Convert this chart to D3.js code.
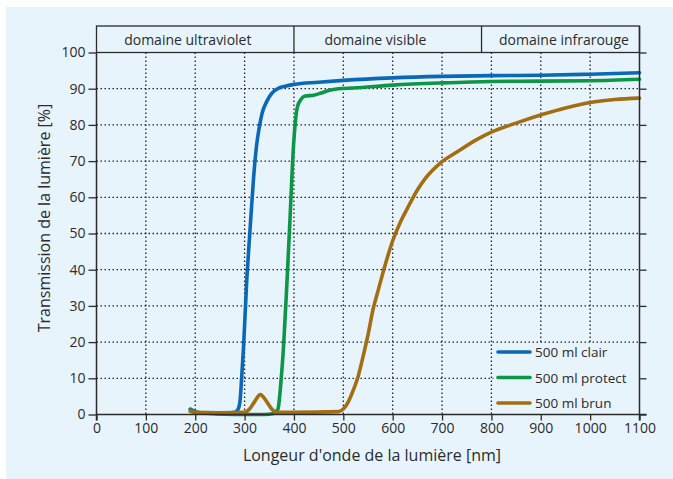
<!DOCTYPE html>
<html><head><meta charset="utf-8">
<script src="https://cdn.jsdelivr.net/npm/d3@7"></script>
<style>body{margin:0;background:#fff}svg{display:block}text{font-family:"Open Sans","Noto Sans",sans-serif;fill:#2b2b2b}</style>
</head><body><svg id="c" width="673" height="479"></svg>
<script>
// ---- data ----
const xTicks = [0,100,200,300,400,500,600,700,800,900,1000,1100];
const yTicks = [0,10,20,30,40,50,60,70,80,90,100];
const domains = ["domaine ultraviolet","domaine visible","domaine infrarouge"];
const domainBounds = [0,400,780,1100];
const seriesNames = ["500 ml clair","500 ml protect","500 ml brun"];
const seriesColors = ["#0b68b6","#0c9646","#a36d12"];
const clairX = [190,200,220,260,280,287,291,294,298,304,311,318,324,330,335,345,355,370,382,400,450,500,600,700,800,900,1000,1100];
const clairY = [1.5,0.8,0.4,0.3,0.6,1.5,4,10,19,36,51,65,74,79.5,83,86.5,88.7,90.2,90.7,91.2,91.8,92.3,93.0,93.4,93.6,93.7,94.0,94.4];
const protectX = [190,200,230,260,300,340,358,364,368,373,379,386,392,399,403,407,414,423,440,455,470,490,520,600,700,800,900,1000,1100];
const protectY = [1.2,0.6,0.3,0.1,0,0,0.3,0.8,1.7,8,19,37,54,74,81,85,87,88,88.2,88.8,89.5,90,90.2,91,91.6,92,92.1,92.2,92.6];
const brunX = [190,200,250,300,310,320,332,345,355,365,400,490,500,510,521,530,540,550,561,570,582,600,615,630,650,665,697,730,771,800,850,906,950,1000,1050,1100];
const brunY = [0.8,0.6,0.5,0.6,1.5,3.5,5.5,3.5,1.5,0.6,0.6,0.8,1.5,3.5,7,10.5,16,22,29.5,34,40,48,53,57,62,65,69.5,72.5,76,78,80.5,83,84.7,86.2,87,87.4];
const series = [[clairX,clairY],[protectX,protectY],[brunX,brunY]];

// ---- layout ----
const svg = d3.select("#c");
const L=96.5, R=639.5, T=52.5, B=414.5, HT=26;
const x = d3.scaleLinear().domain([0,1100]).range([L,R]);
const y = d3.scaleLinear().domain([0,100]).range([B,T]);
const ink="#2b2b2b";
const FF='"Open Sans","Noto Sans",sans-serif';

svg.append("rect").attr("x",6).attr("y",7).attr("width",667).attr("height",472).attr("fill","#e8f4fc");

// grid
const g = svg.append("g");
g.selectAll(".vg").data(xTicks.filter(d=>d>0&&d<1100)).join("line")
 .attr("x1",d=>x(d)).attr("x2",d=>x(d)).attr("y1",T).attr("y2",B)
 .attr("stroke","#222").attr("stroke-width",1.3).attr("stroke-dasharray","1.5,2.5");
g.selectAll(".hg").data(yTicks.filter(d=>d>0&&d<100)).join("line")
 .attr("x1",L).attr("x2",R).attr("y1",d=>y(d)).attr("y2",d=>y(d))
 .attr("stroke","#222").attr("stroke-width",1.3).attr("stroke-dasharray","1.5,2.5");

// header band
svg.append("rect").attr("x",L).attr("y",HT).attr("width",R-L).attr("height",T-HT)
 .attr("fill","none").attr("stroke",ink).attr("stroke-width",1.3);
svg.selectAll(".dv").data(domainBounds.slice(1,-1)).join("line")
 .attr("x1",d=>x(d)).attr("x2",d=>x(d)).attr("y1",HT).attr("y2",T).attr("stroke",ink).attr("stroke-width",1.3);
const hdrX=[185,565,947];
svg.selectAll(".hd").data(domains).join("text")
 .attr("x",(d,i)=>x(hdrX[i])).attr("y",44.5).attr("text-anchor","middle").attr("font-size",14).text(d=>d);

// legend background (covers grid)
svg.append("rect").attr("x",x(800)+2).attr("y",y(20)+1).attr("width",R-x(800)-2).attr("height",B-y(20)-1).attr("fill","#e8f4fc");

// curves
const line = d3.line().x(d=>x(d[0])).y(d=>y(d[1])).curve(d3.curveMonotoneX);
[0,1,2].forEach(i=>{
  const pts = series[i][0].map((v,k)=>[v,series[i][1][k]]);
  svg.append("path").attr("d",line(pts)).attr("fill","none").attr("stroke",seriesColors[i])
   .attr("stroke-width",3.6).attr("stroke-linejoin","round").attr("stroke-linecap","round");
});

// axes
const xa = svg.append("g").attr("transform",`translate(0,${B})`)
 .call(d3.axisBottom(x).tickValues(xTicks).tickSize(6).tickSizeOuter(0).tickPadding(3).tickFormat(d3.format("d")));
xa.select(".domain").attr("d",`M${L},0H${R+7}`);
const ya = svg.append("g").attr("transform",`translate(${L},0)`)
 .call(d3.axisLeft(y).tickValues(yTicks).tickSize(8).tickSizeOuter(0).tickPadding(3).tickFormat(d3.format("d")));
ya.select(".domain").attr("d",`M0,${B+6}V${T}`);
const yr = svg.append("g").attr("transform",`translate(${R},0)`)
 .call(d3.axisRight(y).tickValues(yTicks).tickSize(7).tickSizeOuter(0).tickFormat(""));
yr.select(".domain").attr("d",`M0,${B+6}V${HT}`);
[xa,ya,yr].forEach(a=>{
  a.selectAll(".domain").attr("stroke",ink).attr("stroke-width",1.5);
  a.selectAll(".tick line").attr("stroke",ink).attr("stroke-width",1.3);
  a.selectAll("text").attr("font-size",14).attr("fill",ink).attr("font-family",FF);
});

// legend
const lg = svg.append("g");
seriesNames.forEach((n,i)=>{
  const yy = 352 + i*25.5;
  lg.append("line").attr("x1",498).attr("x2",530).attr("y1",yy).attr("y2",yy)
   .attr("stroke",seriesColors[i]).attr("stroke-width",3.6).attr("stroke-linecap","round");
  lg.append("text").attr("x",535).attr("y",yy+5).attr("font-size",13.5).text(n);
});

// titles
svg.append("text").attr("x",x(558)).attr("y",461).attr("text-anchor","middle").attr("font-size",16).text("Longeur d'onde de la lumière [nm]");
svg.append("text").attr("transform",`translate(50,218) rotate(-90)`).attr("text-anchor","middle").attr("font-size",16).text("Transmission de la lumière [%]");
</script></body></html>
